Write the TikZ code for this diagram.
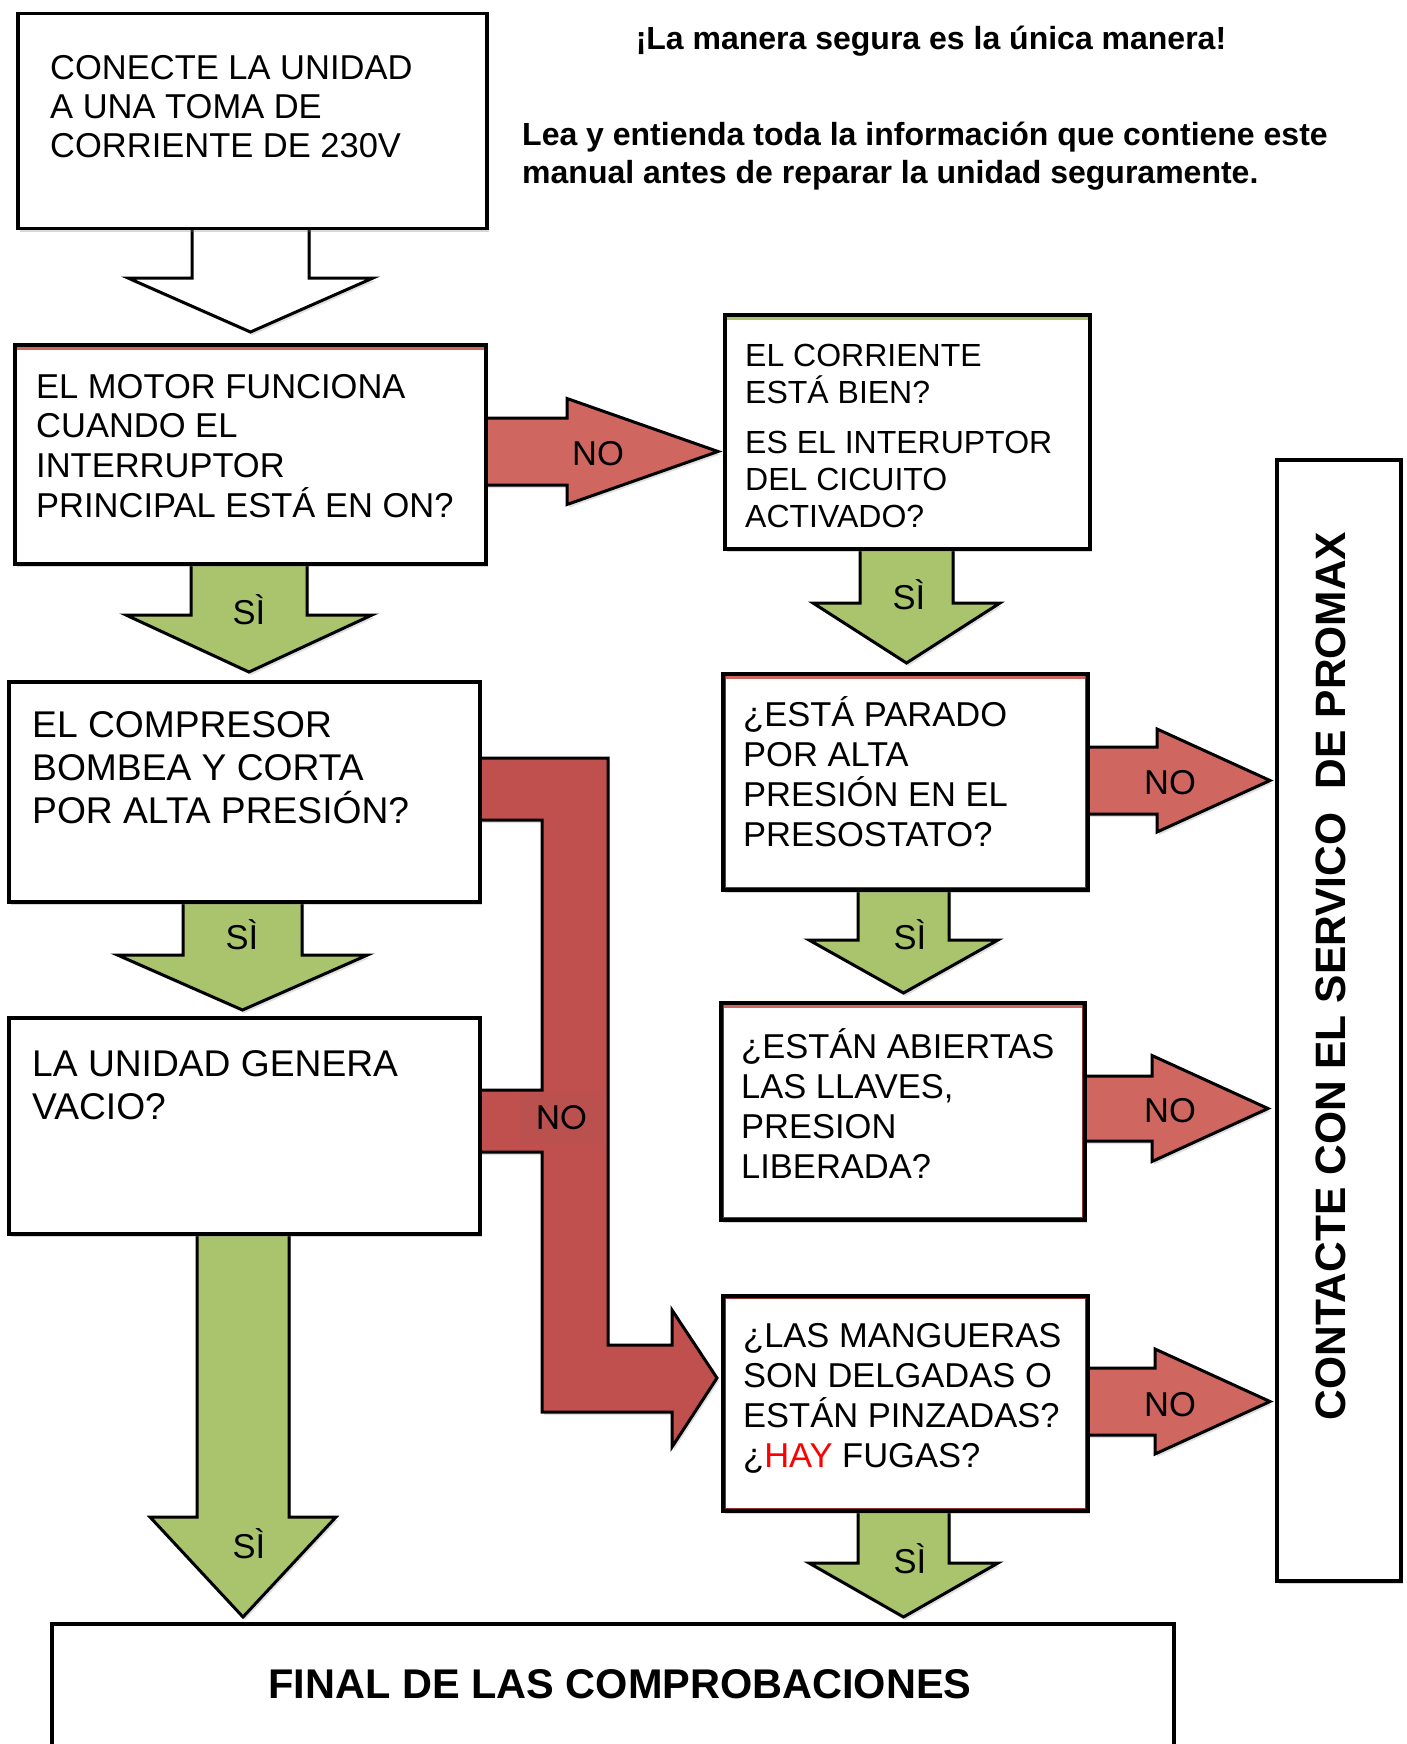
\documentclass[tikz,border=0pt]{standalone}
\usepackage{fontspec}
\setmainfont{Liberation Sans}
\newfontfamily\labfont{Poppins}
\usetikzlibrary{shadows,calc,backgrounds}
\pgfdeclarelayer{bottom}
\pgfsetlayers{bottom,background,main}
\definecolor{grn}{HTML}{A9C46C}
\definecolor{rdl}{HTML}{CF6660}
\definecolor{rdd}{HTML}{C0504D}
\definecolor{rdlab}{HTML}{BA514E}
\definecolor{innerred}{HTML}{8E2F2B}
\newcommand\boxtext[3]{\parbox[t]{1000pt}{\raggedright\fontsize{#1}{#2}\selectfont #3}}
% #1 style, #2 source, #3 target, #4 centre x, #5 stem half width, #6 head half width, #7 wing y, #8 tip gap
\newcommand\downblock[8]{%
  \draw[#1] ($({#4-#5},0 |- #2.south)+(0,-10)$) -- ({#4-#5},#7) -- ({#4-#6},#7)
    -- ($({#4},0 |- #3.north)+(0,-#8)$) -- ({#4+#6},#7) -- ({#4+#5},#7)
    -- ($({#4+#5},0 |- #2.south)+(0,-10)$) -- cycle;}
% #1 style, #2 source, #3 target, #4 centre y, #5 stem half, #6 head half, #7 head base x, #8 tip gap
\newcommand\rightblock[8]{%
  \draw[#1] ($(#2.east |- 0,{#4-#5})+(-10,0)$) -- (#7,{#4-#5}) -- (#7,{#4-#6})
    -- ($(#3.west |- 0,{#4})+(-#8,0)$) -- (#7,{#4+#6}) -- (#7,{#4+#5})
    -- ($(#2.east |- 0,{#4+#5})+(-10,0)$) -- cycle;}
\begin{document}
\begin{tikzpicture}[x=1pt,y=-1pt,
  fbox/.style={draw=black, line width=3.5pt, fill=white, rectangle, inner sep=0pt,
    anchor=north west, drop shadow={shadow xshift=2pt, shadow yshift=-3pt, opacity=0.3}},
  txt/.style={anchor=base west, inner sep=0pt},
  barrow/.style={draw=black, line width=3pt, line join=miter, miter limit=10,
    drop shadow={shadow xshift=2pt, shadow yshift=-3pt, opacity=0.25}},
  garrow/.style={barrow, fill=grn},
  rarrow/.style={barrow, fill=rdl},
  lbl/.style={anchor=base, inner sep=0pt, font=\fontsize{34.5}{40}\selectfont},
  topstripe/.style={line width=3pt},
  innerline/.style={draw=innerred, line width=1.2pt},
]
\useasboundingbox (0,0) rectangle (1406,1744);
\begin{pgfonlayer}{bottom}
\fill[white] (0,0) rectangle (1406,1744);
\end{pgfonlayer}

% ---------- boxes ----------
\node[fbox, minimum width=469, minimum height=215] (b1) at (16,12) {};
\node[fbox, minimum width=471, minimum height=219] (motor) at (13,343) {};
\node[fbox, minimum width=471, minimum height=220] (comp) at (7,680) {};
\node[fbox, minimum width=471, minimum height=216] (unid) at (7,1016) {};
\node[fbox, minimum width=365, minimum height=234] (corr) at (723,313) {};
\node[fbox, minimum width=365, minimum height=216] (parado) at (721,672) {};
\node[fbox, minimum width=364, minimum height=217] (abiert) at (719,1001) {};
\node[fbox, minimum width=365, minimum height=215] (mang) at (721,1294) {};
\node[fbox, minimum width=124, minimum height=1121] (contact) at (1275,458) {};
\node[fbox, minimum width=1122, minimum height=200] (final) at (50,1622) {};

% coloured inner stripes
\draw[topstripe, rdl] ([shift={(3.5pt,-5pt)}]motor.north west) -- ([shift={(-3.5pt,-5pt)}]motor.north east);
\draw[topstripe, grn] ([shift={(3.5pt,-5pt)}]corr.north west) -- ([shift={(-3.5pt,-5pt)}]corr.north east);
\draw[innerline] ([shift={(4.2pt,-4.2pt)}]parado.north west) rectangle ([shift={(-4.2pt,4.2pt)}]parado.south east);
\draw[innerline] ([shift={(4.2pt,-4.2pt)}]abiert.north west) rectangle ([shift={(-4.2pt,4.2pt)}]abiert.south east);
\draw[innerline] ([shift={(4.2pt,-4.2pt)}]mang.north west) rectangle ([shift={(-4.2pt,4.2pt)}]mang.south east);
\draw[topstripe, rdl] ([shift={(4.5pt,-5.5pt)}]parado.north west) -- ([shift={(-4.5pt,-5.5pt)}]parado.north east);
\draw[topstripe, rdl] ([shift={(4.5pt,-5.5pt)}]abiert.north west) -- ([shift={(-4.5pt,-5.5pt)}]abiert.north east);

% ---------- block arrows (behind the boxes) ----------
\begin{pgfonlayer}{background}
\downblock{barrow, fill=white}{b1}{motor}{250.5}{58.5}{122.5}{278}{11}
\downblock{garrow}{motor}{comp}{249}{58}{123}{615}{8}
\downblock{garrow}{comp}{unid}{242.5}{59.5}{125}{955}{6}
\downblock{garrow}{unid}{final}{243}{46}{93}{1517}{5}
\downblock{garrow}{corr}{parado}{906.5}{46.5}{93.5}{603}{9}
\downblock{garrow}{parado}{abiert}{903.5}{45.5}{94.5}{940}{8}
\downblock{garrow}{mang}{final}{903.5}{45.5}{94.5}{1563}{5}
\rightblock{rarrow}{motor}{corr}{451.5}{33.5}{53}{567}{5}
\rightblock{rarrow}{parado}{contact}{780.5}{33.5}{51.5}{1157}{5}
\rightblock{rarrow}{abiert}{contact}{1108.5}{32.5}{53}{1152}{7}
\rightblock{rarrow}{mang}{contact}{1401.5}{33.5}{52.5}{1155}{5}
% L-shaped NO arrow
\draw[barrow, fill=rdd]
  ($(comp.east |- 0,758)+(-10,0)$) -- (608,758) -- (608,1345) -- (672,1345) -- (672,1310)
  -- ($(mang.west |- 0,1378)+(-4,0)$) -- (672,1447) -- (672,1412) -- (542,1412) -- (542,1152)
  -- ($(unid.east |- 0,1152)+(-10,0)$) -- ($(unid.east |- 0,1090)+(-10,0)$) -- (542,1090)
  -- (542,820) -- ($(comp.east |- 0,820)+(-10,0)$) -- cycle;
\end{pgfonlayer}

% ---------- texts ----------
\node[txt] (t1) at (50,80) {\boxtext{34.5}{39}{CONECTE LA UNIDAD\\A UNA TOMA DE\\CORRIENTE DE 230V}};
\node[txt] (t2) at (36,398) {\boxtext{34.5}{39.8}{EL MOTOR FUNCIONA\\CUANDO EL\\INTERRUPTOR\\PRINCIPAL ESTÁ EN ON?}};
\node[txt] (t3) at (32,737) {\boxtext{37.2}{43}{EL COMPRESOR\\BOMBEA Y CORTA\\POR ALTA PRESIÓN?}};
\node[txt] (t4) at (32,1076) {\boxtext{37.2}{43}{LA UNIDAD GENERA\\VACIO?}};
\node[txt] (t5) at (745,366) {\boxtext{32}{37}{EL CORRIENTE\\ESTÁ BIEN?\\[13pt]ES EL INTERUPTOR\\DEL CICUITO\\ACTIVADO?}};
\node[txt] (t6) at (743,726) {\boxtext{34.5}{40}{¿ESTÁ PARADO\\POR ALTA\\PRESIÓN EN EL\\PRESOSTATO?}};
\node[txt] (t7) at (741,1058) {\boxtext{34.5}{40}{¿ESTÁN ABIERTAS\\LAS LLAVES,\\PRESION\\LIBERADA?}};
\node[txt] (t8) at (743,1347) {\boxtext{34.5}{40.3}{¿LAS MANGUERAS\\SON DELGADAS O\\ESTÁN PINZADAS?\\¿\textcolor{red}{HAY} FUGAS?}};

\node[anchor=base, inner sep=0pt, font=\bfseries\fontsize{32}{37.5}\selectfont] (head1) at (931,50) {¡La manera segura es la única manera!};
\node[txt] (head2) at (522,146) {\boxtext{32}{37.5}{\bfseries Lea y entienda toda la información que contiene este\\manual antes de reparar la unidad seguramente.}};

\node[rotate=90, inner sep=0pt, font=\bfseries\fontsize{42.5}{50}\selectfont] (contacttxt) at (1331,976) {CONTACTE CON EL SERVICO\ \ DE PROMAX};
\node[inner sep=0pt, font=\bfseries\fontsize{41.5}{48}\selectfont] (finaltxt) at (620,1684) {FINAL DE LAS COMPROBACIONES};

% ---------- arrow labels ----------
\node[lbl] (si1) at (249,624) {SÌ};
\node[lbl] (si2) at (242,949) {SÌ};
\node[lbl] (si3) at (249,1558) {SÌ};
\node[lbl] (si4) at (909,609) {SÌ};
\node[lbl] (si5) at (910,949) {SÌ};
\node[lbl] (si6) at (910,1573) {SÌ};
\node[lbl] (no1) at (598,465) {NO};
\node[lbl] (no2) at (1170,794) {NO};
\node[lbl] (no3) at (1170,1122) {NO};
\node[lbl] (no4) at (1170,1416) {NO};
\node[fill=rdlab, minimum width=84, minimum height=50, inner sep=0pt,
  font=\labfont\fontsize{34}{40}\selectfont] (nol) at (562,1118) {NO};
\end{tikzpicture}
\end{document}
